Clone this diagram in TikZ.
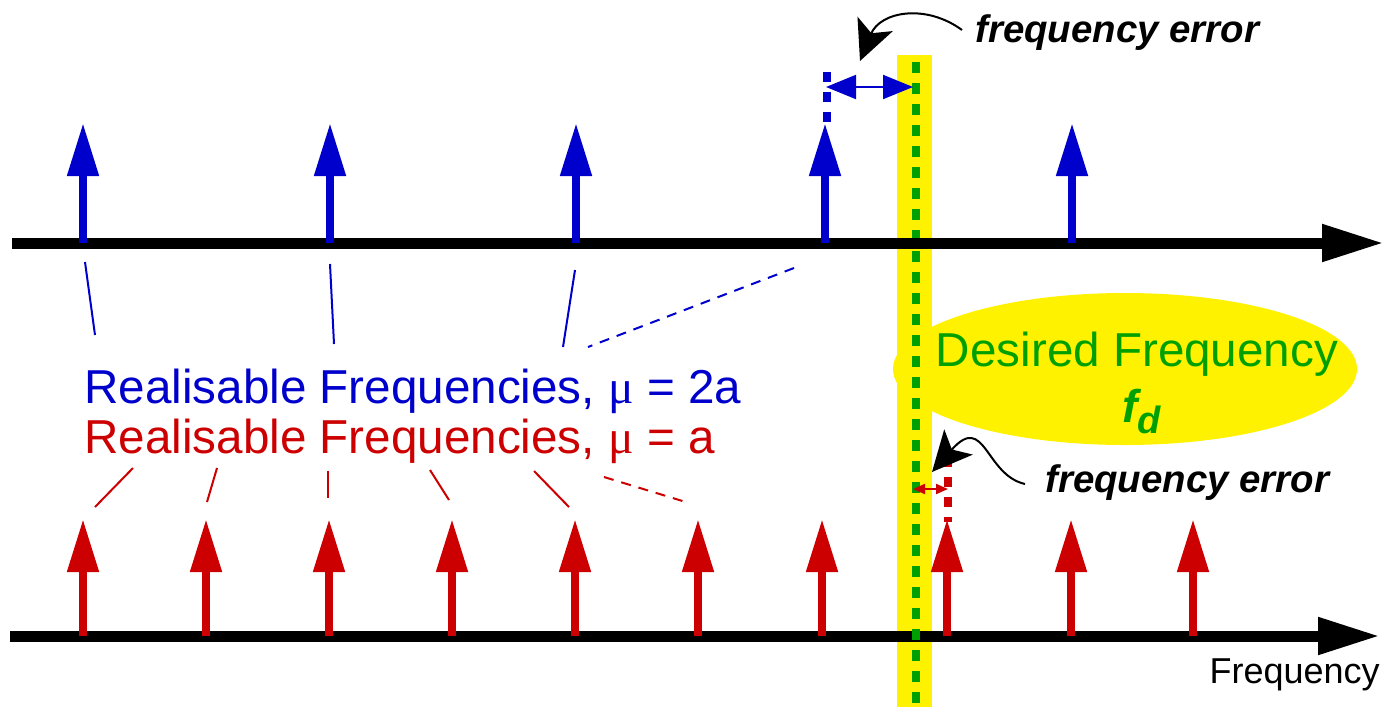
\documentclass[tikz,border=0pt]{standalone}
\usepackage{fontspec}
\setmainfont{Liberation Sans}
\newfontfamily\mufont{Liberation Serif}
\usepackage{tikz}
\usetikzlibrary{arrows.meta}
\definecolor{spikeblue}{RGB}{0,0,204}
\definecolor{spikered}{RGB}{204,0,0}
\definecolor{fdgreen}{RGB}{0,160,0}

\begin{document}
\begin{tikzpicture}[x=0.5pt,y=-0.5pt,
  axis/.style={line width=5.5pt,-{Triangle[length=31pt,width=17.5pt]}},
  spike/.style={line width=4pt,-{Triangle[length=26.5pt,width=15pt]}},
  pointer/.style={line width=1pt,-{Stealth[length=20pt,width=19pt,inset=5pt]}},
  lblfont/.style={font=\fontsize{23.8}{28}\selectfont,inner sep=0pt},
  errfont/.style={font=\fontsize{19.2}{22}\selectfont\bfseries\itshape,inner sep=0pt}]
\useasboundingbox (0,0) rectangle (1384,707);
% desired frequency marker
\fill[yellow] (1125,369) ellipse [x radius=116pt,y radius=38pt];
\fill[yellow] (897,55) rectangle (932,707);
\draw[axis] (10,636) -- (1380,636);
\draw[fdgreen,line width=4pt,dash pattern=on 5.5pt off 5pt] (916,62) -- (916,707);
\draw[axis] (12,243) -- (1384,243);
% spikes
\foreach \x in {83,330,576,825,1072}
  \draw[spike,spikeblue] (\x,243) -- (\x,123);
\foreach \x in {83,206,329,452,575,698,822,947,1071,1193}
  \draw[spike,spikered] (\x,636) -- (\x,519);
% labels
\node[lblfont,anchor=base west,text=spikeblue] (twoa) at (84,403) {Realisable Frequencies, {\mufont μ} = 2a};
\node[lblfont,anchor=base west,text=spikered] (onea) at (84,453) {Realisable Frequencies, {\mufont μ} = a};
\begin{scope}[spikeblue,line width=1pt]
\draw (85,262) -- (95,335);
\draw (330,264) -- (334,344);
\draw (575,270) -- (563,347);
\draw[dash pattern=on 5pt off 4pt] (794,268) -- (588,347);
\end{scope}
\begin{scope}[spikered,line width=1pt]
\draw (133,468) -- (95,507);
\draw (217,468) -- (207,502);
\draw (328,471) -- (328,498);
\draw (430,470) -- (449,500);
\draw (534,471) -- (569,507);
\draw[dash pattern=on 5pt off 4pt] (604,477) -- (689,503);
\end{scope}
% frequency errors
\draw[spikeblue,line width=4pt,dash pattern=on 5pt off 5pt] (827,72) -- (827,128);
\draw[spikeblue,line width=1pt,{Triangle[length=15pt,width=12pt]}-{Triangle[length=15pt,width=12pt]}] (826,87) -- (913,87);
\draw[spikered,line width=4pt,dash pattern=on 5pt off 5pt] (948,457) -- (948,522);
\draw[spikered,line width=1pt,{Triangle[length=6pt,width=5pt]}-{Triangle[length=6pt,width=5pt]}] (913,489) -- (948,489);
\node[errfont,anchor=base west] (errtop) at (975,42) {frequency error};
\node[errfont,anchor=base west] (errbot) at (1045,492) {frequency error};
\draw[pointer] (962,30) .. controls (925,3) and (880,12) .. (860,61);
\draw[pointer] (1025,484) .. controls (985,475) and (985,412) .. (932,472);
% desired frequency text
\node[lblfont,anchor=base,text=fdgreen] (desired) at (1137,366) {Desired Frequency};
\node[anchor=base west,text=fdgreen,font=\fontsize{23}{26}\selectfont\bfseries\itshape,inner sep=0pt] (fd) at (1122,422) {f\raisebox{-5.5pt}{\fontsize{19}{22}\selectfont d}};
\node[anchor=base east,font=\fontsize{18}{22}\selectfont,inner sep=0pt] (freq) at (1380,683) {Frequency};
\end{tikzpicture}
\end{document}
